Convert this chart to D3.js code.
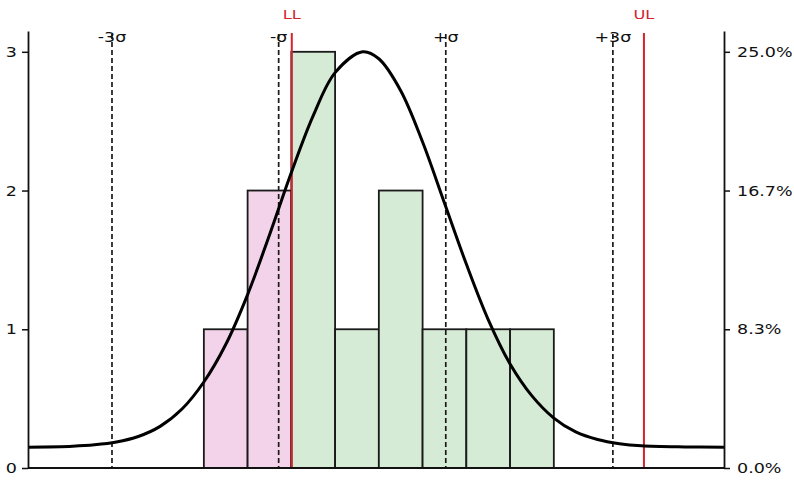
<!DOCTYPE html>
<html>
<head>
<meta charset="utf-8">
<script src="https://cdn.jsdelivr.net/npm/d3@7"></script>
<style>
  html, body { margin: 0; padding: 0; background: #fff; }
  svg { display: block; font-family: "DejaVu Sans", Verdana, sans-serif; }
</style>
</head>
<body>
<svg id="chart" width="794" height="486"></svg>
<script>
// histogram bins (bin start, width 1) and counts
const binStarts = [0, 1, 2, 3, 4, 5, 6, 7];
const binCounts = [1, 2, 3, 1, 2, 1, 1, 1];
const totalCount = 12;

// fitted curve (x in bin units, y in counts)
const curveX = [-4.02, -3.0, -2.5, -2.0, -1.5, -1.0, -0.5, 0, 0.5, 1.0, 1.5, 2.0, 2.5, 3.0, 3.63, 4.0, 4.5, 5.0, 5.5, 6.0, 6.5, 7.0, 7.5, 8.0, 8.5, 9.0, 9.5, 10.0, 11.0, 11.89];
const curveY = [0.15, 0.157, 0.167, 0.187, 0.227, 0.3, 0.425, 0.62, 0.89, 1.25, 1.68, 2.13, 2.54, 2.85, 3.0, 2.95, 2.72, 2.35, 1.91, 1.47, 1.07, 0.75, 0.52, 0.36, 0.26, 0.205, 0.175, 0.16, 0.152, 0.15];

// sigma markers and spec limits
const sigmaLabels = ["-3σ", "-σ", "+σ", "+3σ"];
const sigmaValues = [-2.1, 1.71, 5.53, 9.35];
const limitLabels = ["LL", "UL"];
const limitValues = [2.01, 10.06];

const leftTicks = [0, 1, 2, 3];
const rightTicks = [0, 100 / 12, 200 / 12, 25];

const svg = d3.select("#chart");
const x = d3.scaleLinear().domain([-4.02, 11.89]).range([28, 724]);
const y = d3.scaleLinear().domain([0, 3.15]).range([468, 31]);
const yPct = d3.scaleLinear().domain([0, 3.15 / totalCount * 100]).range([468, 31]);

const PINK = "#f3d3ea";
const GREEN = "#d6ebd6";
const RED = "#d6232c";

// glyphs in the reference are drawn a bit wider than the font
function widen(sel, k) {
  sel.each(function () {
    const w = this.getComputedTextLength();
    this.setAttribute("textLength", w * k);
    this.setAttribute("lengthAdjust", "spacingAndGlyphs");
  });
}

// bars
svg.append("g")
  .selectAll("rect")
  .data(binStarts)
  .join("rect")
  .attr("x", (d) => x(d))
  .attr("y", (d, i) => y(binCounts[i]))
  .attr("width", (d) => x(d + 1) - x(d))
  .attr("height", (d, i) => y(0) - y(binCounts[i]))
  .attr("fill", (d) => (d + 1 <= limitValues[0] ? PINK : GREEN))
  .attr("stroke", "#1a1a1a")
  .attr("stroke-width", 1.8);

// sigma lines
const sig = svg.append("g");
sig.selectAll("line")
  .data(sigmaValues)
  .join("line")
  .attr("x1", (d) => x(d))
  .attr("x2", (d) => x(d))
  .attr("y1", 34)
  .attr("y2", y(0))
  .attr("stroke", "#1a1a1a")
  .attr("stroke-width", 1.7)
  .attr("stroke-dasharray", "5,3");
sig.selectAll("text")
  .data(sigmaValues)
  .join("text")
  .attr("x", (d) => x(d))
  .attr("y", 42)
  .attr("text-anchor", "middle")
  .attr("font-size", 14)
  .attr("fill", "#111")
  .text((d, i) => sigmaLabels[i])
  .call(widen, 1.25);

// spec limits
const lim = svg.append("g");
lim.selectAll("line")
  .data(limitValues)
  .join("line")
  .attr("x1", (d) => x(d))
  .attr("x2", (d) => x(d))
  .attr("y1", 33)
  .attr("y2", y(0))
  .attr("stroke", RED)
  .attr("stroke-width", 2);
lim.selectAll("text")
  .data(limitValues)
  .join("text")
  .attr("x", (d) => x(d))
  .attr("y", 19)
  .attr("text-anchor", "middle")
  .attr("font-size", 13)
  .attr("fill", RED)
  .text((d, i) => limitLabels[i])
  .call(widen, 1.25);

// curve
const line = d3.line()
  .x((d) => x(d[0]))
  .y((d) => y(d[1]))
  .curve(d3.curveCatmullRom.alpha(0.5));
svg.append("path")
  .datum(curveX.map((v, i) => [v, curveY[i]]))
  .attr("d", line)
  .attr("fill", "none")
  .attr("stroke", "#000")
  .attr("stroke-width", 3);

// baseline
svg.append("line")
  .attr("x1", x.range()[0])
  .attr("x2", x.range()[1])
  .attr("y1", y(0))
  .attr("y2", y(0))
  .attr("stroke", "#111")
  .attr("stroke-width", 1.8);

// axes
const leftAxis = svg.append("g")
  .attr("transform", `translate(${x.range()[0]},0)`)
  .call(d3.axisLeft(y).tickValues(leftTicks).tickSize(6).tickSizeOuter(0).tickPadding(5).tickFormat(d3.format("d")));

const rightAxis = svg.append("g")
  .attr("transform", `translate(${x.range()[1]},0)`)
  .call(d3.axisRight(yPct).tickValues(rightTicks).tickSize(6).tickSizeOuter(0).tickPadding(7).tickFormat((d) => d.toFixed(1) + "%"));

[leftAxis, rightAxis].forEach((g) => {
  g.select(".domain").attr("stroke", "#111").attr("stroke-width", 1.8);
  g.selectAll(".tick line").attr("stroke", "#111").attr("stroke-width", 1.5);
  g.selectAll(".tick text")
    .attr("font-family", "DejaVu Sans, Verdana, sans-serif")
    .attr("font-size", 14)
    .attr("fill", "#111")
    .call(widen, 1.25);
});
</script>
</body>
</html>
